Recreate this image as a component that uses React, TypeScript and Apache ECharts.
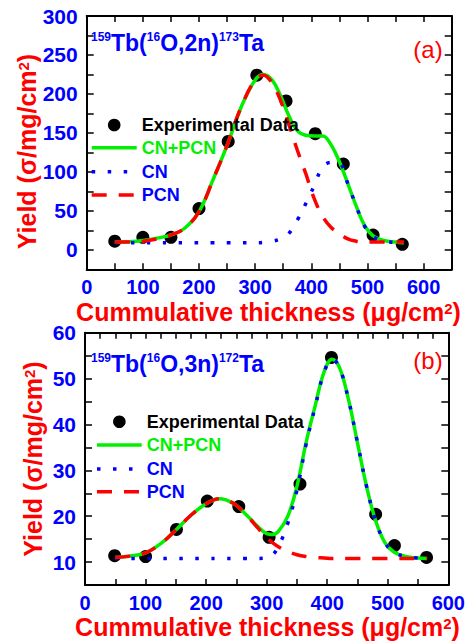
import React, { useEffect, useRef } from "react";
import * as echarts from "echarts";

// ---------- DATA ----------
// Panel (a): 159Tb(16O,2n)173Ta
const expXA = [50, 100, 150, 200, 252, 303, 355, 407, 457, 510, 562];
const expYA = [11, 16, 16, 53, 139, 224, 191, 149, 110, 19, 7];
const curveXA = [50, 75, 100, 125, 150, 175, 200, 225, 250, 275, 300, 315, 330, 345, 360, 375, 390, 405, 420, 435, 450, 465, 480, 495, 510, 530, 550, 565];
const totalA = [10, 10.5, 12, 15, 19, 28, 49, 90, 134, 183, 218, 225, 218, 198, 172, 153, 147, 146, 146, 135, 113, 85, 56, 31, 18, 12, 10, 9];
const cnA = [9, 9, 9, 9, 9, 9, 9, 9, 9, 9, 9, 9.5, 11, 14, 21, 38, 59, 82, 106, 112, 111, 85, 56, 30, 17, 11, 9.5, 9];
const pcnA = [10, 10, 11, 14, 19, 28, 49, 90, 134, 183, 218, 224, 214, 192, 161, 128, 98, 66, 43, 29, 21, 14, 11, 10, 10, 10, 10, 10];

// Panel (b): 159Tb(16O,3n)172Ta
const expXB = [49, 100, 151, 202, 254, 304, 355, 407, 480, 511, 564];
const expYB = [11.4, 11.2, 17.1, 23.3, 22.1, 15.4, 27, 54.6, 20.4, 13.6, 11];
const curveXB = [50, 75, 100, 125, 150, 175, 200, 222, 245, 265, 285, 300, 310, 320, 335, 350, 365, 380, 395, 408, 420, 435, 450, 465, 480, 495, 510, 530, 550, 565];
const totalB = [11, 11.3, 12, 14, 17, 20.2, 22.7, 23.8, 22.8, 20.5, 17.8, 16.2, 16, 16.8, 20, 26.5, 36, 44, 51.5, 54.2, 52.5, 45.5, 36, 26.5, 19, 14.3, 12.2, 11.2, 10.9, 10.8];
const cnB = [10.8, 10.8, 10.8, 10.8, 10.8, 10.8, 10.8, 10.8, 10.8, 10.8, 10.8, 10.9, 11.6, 13.5, 18.5, 25.7, 35.6, 43.8, 51.4, 54.2, 52.5, 45.5, 36, 26.5, 19, 14.3, 12.2, 11.2, 10.9, 10.8];
const pcnB = [11, 11.3, 12, 14, 17, 20.2, 22.7, 23.8, 22.8, 20.5, 17.5, 15.3, 14.2, 13.3, 12.3, 11.6, 11.2, 11, 10.9, 10.8, 10.8, 10.8, 10.8, 10.8, 10.8, 10.8, 10.8, 10.8, 10.8, 10.8];

const legendNames = ["Experimental Data", "CN+PCN", "CN", "PCN"];
const xTitle = "Cummulative thickness (μg/cm";
const yTitle = "Yield (σ/mg/cm";
const panelTags = ["(a)", "(b)"];

// ---------- STYLE ----------
const FONT = "Liberation Sans, Arial, Helvetica, sans-serif";
const BLUE = "#0000ff";
const RED = "#ff0000";
const GREEN = "#00f000";
const BLACK = "#000000";
const CN_DASH = [3.5, 12.5];
const PCN_DASH = [15, 12];

const zip = (xs: number[], ys: number[]) => xs.map((x, i) => [x, ys[i]]);

function makeXAxis(gridIndex: number, position: string, max: number, interval: number, labels: boolean) {
  return {
    type: "value",
    gridIndex,
    position,
    min: 0,
    max,
    interval,
    axisLine: { show: true, onZero: false, lineStyle: { color: BLACK, width: 2 } },
    axisTick: { show: true, inside: true, length: 6, lineStyle: { color: BLACK, width: 1.5 } },
    splitLine: { show: false },
    axisLabel: {
      show: labels,
      showMinLabel: true,
      showMaxLabel: true,
      margin: 8,
      color: BLUE,
      fontSize: 20,
      fontWeight: "bold",
      fontFamily: FONT,
      formatter: (v: number) => (v % 100 === 0 && v <= 600 ? String(v) : ""),
    },
  };
}

function makeYAxis(gridIndex: number, position: string, min: number, max: number, interval: number, step: number, labels: boolean) {
  return {
    type: "value",
    gridIndex,
    position,
    min,
    max,
    interval,
    axisLine: { show: true, onZero: false, lineStyle: { color: BLACK, width: 2 } },
    axisTick: { show: true, inside: true, length: 7, lineStyle: { color: BLACK, width: 1.5 } },
    splitLine: { show: false },
    axisLabel: {
      show: labels,
      margin: 9,
      color: BLUE,
      fontSize: 21,
      fontWeight: "bold",
      fontFamily: FONT,
      formatter: (v: number) => (v >= 0 && Math.abs(v % step) < 1e-9 ? String(v) : ""),
    },
  };
}

function panelSeries(gi: number, ex: number[], ey: number[], cx: number[], tot: number[], cn: number[], pcn: number[]) {
  const xi = gi * 2;
  const yi = gi * 2;
  return [
    {
      name: legendNames[0],
      type: "scatter",
      xAxisIndex: xi,
      yAxisIndex: yi,
      data: zip(ex, ey),
      symbol: "circle",
      symbolSize: 13,
      itemStyle: { color: BLACK, opacity: 1 },
      z: 2,
    },
    {
      name: legendNames[1],
      type: "line",
      xAxisIndex: xi,
      yAxisIndex: yi,
      data: zip(cx, tot),
      smooth: 0.4,
      symbol: "none",
      lineStyle: { color: GREEN, width: 3.5 },
      itemStyle: { color: GREEN },
      z: 3,
    },
    {
      name: legendNames[2],
      type: "line",
      xAxisIndex: xi,
      yAxisIndex: yi,
      data: zip(cx, cn),
      smooth: 0.4,
      symbol: "none",
      lineStyle: { color: BLUE, width: 3.5, type: CN_DASH },
      itemStyle: { color: BLUE },
      z: 4,
    },
    {
      name: legendNames[3],
      type: "line",
      xAxisIndex: xi,
      yAxisIndex: yi,
      data: zip(cx, pcn),
      smooth: 0.4,
      symbol: "none",
      lineStyle: { color: RED, width: 3.5, type: PCN_DASH },
      itemStyle: { color: RED },
      z: 5,
    },
  ];
}

function legendText(x: number, y: number, text: string, color: string) {
  return {
    type: "text",
    x,
    y,
    z: 100,
    style: {
      text,
      fill: color,
      fontSize: 18,
      fontWeight: "bold",
      fontFamily: FONT,
      align: "left",
      verticalAlign: "middle",
      textAlign: "left",
      textVerticalAlign: "middle",
    },
  };
}

function legendLine(x1: number, x2: number, y: number, color: string, dash: number[] | null) {
  return {
    type: "line",
    z: 100,
    shape: { x1, y1: y, x2, y2: y },
    style: { stroke: color, lineWidth: 3.5, lineDash: dash || undefined },
  };
}

function manualLegend(x1: number, x2: number, tx: number, rows: number[]) {
  return [
    { type: "circle", z: 100, shape: { cx: (x1 + x2) / 2, cy: rows[0], r: 6.3 }, style: { fill: BLACK } },
    legendText(tx, rows[0], legendNames[0], BLACK),
    legendLine(x1, x2, rows[1], GREEN, null),
    legendText(tx, rows[1], legendNames[1], GREEN),
    legendLine(x1, x2, rows[2], BLUE, CN_DASH),
    legendText(tx, rows[2], legendNames[2], BLUE),
    legendLine(x1, x2, rows[3], RED, PCN_DASH),
    legendText(tx, rows[3], legendNames[3], BLUE),
  ];
}

const titleRich = (color: string) => ({
  m: { fontSize: 25, fontWeight: "bold", fontFamily: FONT, fill: color, lineHeight: 22, verticalAlign: "middle" },
  s: { fontSize: 15, fontWeight: "bold", fontFamily: FONT, fill: color, lineHeight: 22, verticalAlign: "top" },
});

const reacRich = {
  m: { fontSize: 23, fontWeight: "bold", fontFamily: FONT, fill: BLUE, lineHeight: 24, verticalAlign: "middle" },
  s: { fontSize: 12, fontWeight: "bold", fontFamily: FONT, fill: BLUE, lineHeight: 24, verticalAlign: "top" },
};

function textEl(x: number, y: number, text: string, rich: any, rotation = 0, align = "center") {
  return {
    type: "text",
    x,
    y,
    rotation,
    z: 100,
    style: {
      text,
      rich,
      fill: BLUE,
      align,
      verticalAlign: "middle",
      textAlign: align,
      textVerticalAlign: "middle",
    },
  };
}

function tagEl(x: number, y: number, text: string) {
  return {
    type: "text",
    x,
    y,
    z: 100,
    style: {
      text,
      fill: RED,
      fontSize: 24,
      fontWeight: "normal",
      fontFamily: FONT,
      align: "center",
      verticalAlign: "middle",
      textAlign: "center",
      textVerticalAlign: "middle",
    },
  };
}

export default function App() {
  const ref = useRef<HTMLDivElement>(null);
  useEffect(() => {
    if (!ref.current) return;
    const chart = echarts.init(ref.current, null, { renderer: "svg" });
    const option: any = {
      animation: false,
      backgroundColor: "#ffffff",
      grid: [
        { left: 86.7, top: 16, width: 365, height: 253.3, containLabel: false },
        { left: 85, top: 332.7, width: 365, height: 252.3, containLabel: false },
      ],
      xAxis: [
        makeXAxis(0, "bottom", 650, 50, true),
        makeXAxis(0, "top", 650, 50, false),
        makeXAxis(1, "bottom", 600, 50, true),
        makeXAxis(1, "top", 600, 25, false),
      ],
      yAxis: [
        makeYAxis(0, "left", -25, 300, 25, 50, true),
        makeYAxis(0, "right", -25, 300, 25, 50, false),
        makeYAxis(1, "left", 5, 60, 5, 10, true),
        makeYAxis(1, "right", 5, 60, 5, 10, false),
      ],
      series: [
        ...panelSeries(0, expXA, expYA, curveXA, totalA, cnA, pcnA),
        ...panelSeries(1, expXB, expYB, curveXB, totalB, cnB, pcnB),
      ],
      graphic: [
        textEl(268.5, 311.5, `{m|${xTitle}}{s|2}{m|)}`, titleRich(RED)),
        textEl(267.5, 627, `{m|${xTitle}}{s|2}{m|)}`, titleRich(RED)),
        textEl(27, 151.5, `{m|${yTitle}}{s|2}{m|)}`, titleRich(RED), Math.PI / 2),
        textEl(32.5, 459, `{m|${yTitle}}{s|2}{m|)}`, titleRich(RED), Math.PI / 2),
        textEl(91, 43, "{s|159}{m|Tb(}{s|16}{m|O,2n)}{s|173}{m|Ta}", reacRich, 0, "left"),
        textEl(91, 363.5, "{s|159}{m|Tb(}{s|16}{m|O,3n)}{s|172}{m|Ta}", reacRich, 0, "left"),
        tagEl(428, 49.5, panelTags[0]),
        tagEl(428, 360, panelTags[1]),
        ...manualLegend(91.7, 136.7, 141.7, [125, 147.7, 171.7, 195]),
        ...manualLegend(97, 141.7, 146.7, [421.7, 445, 469, 491.7]),
      ],
    };
    chart.setOption(option);
    return () => chart.dispose();
  }, []);
  return (
    <div
      ref={ref}
      style={{ position: "absolute", left: 0, top: 0, width: 468, height: 643, background: "#fff" }}
    />
  );
}
